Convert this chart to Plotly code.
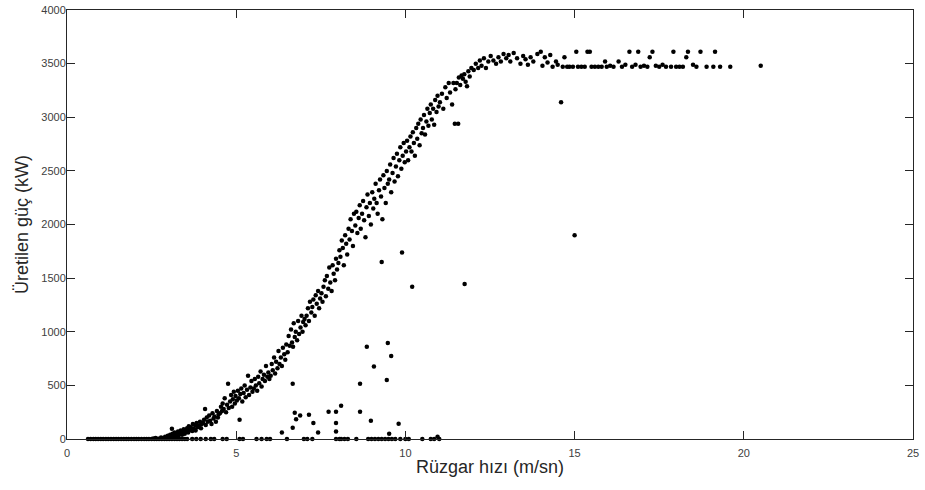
import plotly.graph_objects as go

# --- zero-power observations (turbine idle) ---
zero_x = [0.62,0.7,0.78,0.85,0.92,1.0,1.07,1.15,1.22,1.3,1.38,1.45,1.52,1.6,1.68,1.75,1.82,1.9,1.98,2.05,
          2.12,2.2,2.28,2.35,2.42,2.5,2.58,2.65,2.72,2.8,2.88,2.95,3.02,3.1,3.18,3.25,3.32,3.4,3.48,3.55,
          3.7,3.82,3.95,4.1,4.25,4.35,4.6,4.72,5.1,5.2,5.6,5.75,5.9,6.0,6.5,7.0,7.1,7.25,7.95,8.05,8.1,8.2,
          8.3,8.55,8.9,9.0,9.1,9.2,9.3,9.4,9.5,9.6,9.7,9.85,10.0,10.1,10.5,10.75,10.85,11.0]
zero_y = [0]*len(zero_x)

# --- main power-curve observations ---
curve_x = [2.55,2.62,2.7,2.78,2.85,2.9,2.95,2.98,
  3.02,3.05,3.08,3.1,3.12,3.15,3.18,3.2,3.25,3.28,3.3,3.33,3.36,3.4,3.42,3.45,3.48,
  3.52,3.55,3.58,3.6,3.63,3.66,3.7,3.72,3.75,3.78,3.8,3.83,3.86,3.9,3.93,3.96,3.98,
  4.02,4.05,4.08,4.1,4.13,4.16,4.2,4.23,4.27,4.3,4.33,4.36,4.4,4.43,4.46,4.48,
  4.52,4.55,4.58,4.6,4.63,4.66,4.7,4.73,4.76,4.78,4.82,4.85,4.88,4.9,4.93,4.96,4.98,
  5.02,5.05,5.08,5.12,5.15,5.18,5.22,5.25,5.28,5.32,5.35,5.38,5.42,5.45,5.48,
  5.52,5.55,5.58,5.62,5.65,5.68,5.72,5.75,5.78,5.82,5.85,5.88,5.92,5.95,5.98,
  6.02,6.05,6.08,6.12,6.15,6.18,6.22,6.25,6.28,6.32,6.35,6.38,6.42,6.45,6.48,
  6.52,6.55,6.58,6.62,6.65,6.68,6.7,6.73,6.76,6.8,6.83,6.86,6.9,6.93,6.96,6.98,
  7.02,7.05,7.08,7.12,7.15,7.18,7.22,7.25,7.28,7.32,7.35,7.38,7.42,7.45,7.48,
  7.52,7.55,7.58,7.62,7.65,7.68,7.72,7.75,7.78,7.82,7.85,7.88,7.92,7.95,7.98,
  8.02,8.05,8.08,8.12,8.15,8.18,8.22,8.25,8.28,8.32,8.35,8.38,8.42,8.45,8.48,
  8.52,8.55,8.58,8.62,8.65,8.68,8.72,8.75,8.78,8.82,8.85,8.88,8.92,8.95,8.98,
  9.02,9.05,9.08,9.12,9.15,9.18,9.22,9.25,9.28,9.32,9.35,9.38,9.42,9.45,9.48,
  9.52,9.55,9.58,9.62,9.65,9.68,9.72,9.75,9.78,9.82,9.85,9.88,9.92,9.95,9.98,
  10.02,10.05,10.08,10.12,10.15,10.18,10.22,10.25,10.28,10.32,10.35,10.38,10.42,10.45,10.48,
  10.52,10.55,10.58,10.62,10.65,10.68,10.72,10.75,10.78,10.82,10.85,10.88,10.92,10.95,10.98,
  11.02,11.08,11.12,11.18,11.22,11.28,11.32,11.38,11.42,11.46,11.48,
  11.52,11.56,11.58,11.62,11.66,11.7,11.74,11.78,11.82,11.86,11.9,11.95,
  12.02,12.08,12.15,12.2,12.25,12.32,12.38,12.45,12.52,12.6,12.68,12.75,12.82,12.9,12.98]
curve_y = [5,10,3,15,8,20,12,30,
  25,40,15,95,50,30,60,20,45,70,35,55,80,40,65,90,50,
  70,100,60,120,85,110,75,140,95,130,80,150,110,125,160,100,140,
  150,180,280,130,200,160,220,170,140,240,190,210,160,260,200,230,
  240,300,260,330,280,380,250,320,515,290,350,410,300,370,440,330,400,
  360,450,380,420,470,350,430,500,390,460,590,410,480,540,440,
  470,560,500,450,580,520,630,490,560,600,540,680,580,620,560,
  590,700,640,760,610,720,660,820,700,760,680,850,790,740,880,
  810,960,870,1020,900,860,1080,950,1000,920,1100,980,1040,1150,1000,1090,
  1120,1060,1150,1220,1100,1280,1180,1230,1300,1150,1340,1260,1380,1220,1310,
  1360,1280,1420,1480,1330,1520,1400,1600,1460,1380,1620,1540,1480,1680,1580,
  1640,1760,1700,1850,1780,1620,1900,1820,1720,1960,1860,2050,1940,1800,2100,
  1990,2120,1920,2060,2180,1960,2100,2220,2040,1880,2160,2280,2080,2200,2000,
  2300,2150,2240,2380,2200,2100,2320,2420,2260,2050,2460,2340,2200,2500,2380,
  2420,2560,2300,2480,2620,2400,2540,2660,2450,2600,2720,2520,2640,2760,2580,
  2680,2780,2600,2720,2820,2680,2860,2760,2640,2900,2800,2940,2740,2980,2850,
  2900,3020,2840,2960,3080,2920,3040,3120,2980,3080,2930,3160,3050,3200,3100,
  3140,3220,3080,3280,3180,3320,3230,3120,3320,2940,3260,
  3320,2940,3370,3300,3390,3360,3400,3330,3290,3430,3380,3460,
  3440,3500,3460,3530,3480,3550,3460,3520,3570,3530,3500,3560,3520,3590,3550]

# --- rated-power plateau ---
plateau_x = [13.05,13.1,13.2,13.3,13.4,13.48,13.55,13.62,13.7,13.78,13.9,14.0,14.05,14.12,14.2,14.28,14.35,
  14.45,14.5,14.6,14.65,14.7,14.78,14.85,14.95,15.0,15.05,15.1,15.2,15.3,15.38,15.45,15.5,15.6,15.7,15.8,
  15.9,15.95,16.05,16.15,16.3,16.4,16.5,16.62,16.7,16.8,16.88,16.95,17.05,17.15,17.22,17.3,17.4,17.5,17.6,
  17.7,17.85,17.92,18.0,18.1,18.2,18.3,18.35,18.5,18.6,18.72,18.9,19.1,19.15,19.3,19.6,20.5]
plateau_y = [3580,3520,3600,3550,3500,3570,3540,3490,3560,3520,3590,3610,3480,3560,3510,3580,3470,
  3520,3490,3140,3470,3560,3470,3470,3470,1900,3610,3470,3470,3470,3610,3610,3470,3470,3470,3470,
  3520,3470,3480,3470,3520,3470,3490,3610,3470,3490,3610,3470,3480,3470,3560,3610,3480,3470,3490,
  3470,3470,3610,3470,3470,3470,3560,3610,3490,3470,3610,3470,3470,3610,3470,3470,3480]

# --- curtailed / anomalous observations ---
outlier_x = [8.66,8.86,9.07,9.45,9.48,9.58,9.3,9.9,10.2,11.75,8.66,8.98,9.8,9.52,6.67,6.35,6.67,6.73,
  6.77,6.89,7.15,7.28,7.42,7.73,7.95,8.1,7.95,7.95,5.1,10.95]
outlier_y = [515,860,675,550,895,775,1650,1740,1420,1445,255,170,143,50,515,60,105,245,
  185,220,225,150,60,255,255,310,150,70,180,20]

x_ticks = [0, 5, 10, 15, 20, 25]
y_ticks = [0, 500, 1000, 1500, 2000, 2500, 3000, 3500, 4000]

all_x = zero_x + curve_x + plateau_x + outlier_x
all_y = zero_y + curve_y + plateau_y + outlier_y

FONT = "Liberation Sans, Arial, sans-serif"

fig = go.Figure(go.Scatter(
    x=all_x, y=all_y, mode="markers",
    marker=dict(color="black", size=4.5, line=dict(width=0)),
    cliponaxis=False, showlegend=False))

axis_common = dict(showline=True, mirror="ticks", linecolor="#262626", linewidth=1,
                   ticks="inside", ticklen=8, tickcolor="#262626", tickwidth=1,
                   showgrid=False, zeroline=False, automargin=False,
                   tickfont=dict(family=FONT, size=11, color="#404040"))

fig.update_xaxes(range=[0, 25], tickvals=x_ticks, ticktext=[str(t) for t in x_ticks],
                 ticklabelstandoff=4,
                 title=dict(text="Rüzgar hızı (m/sn)", standoff=2,
                            font=dict(family=FONT, size=18, color="#262626")),
                 **axis_common)
fig.update_yaxes(range=[0, 4000], tickvals=y_ticks, ticktext=[str(t) for t in y_ticks],
                 ticklabelstandoff=-2,
                 title=dict(text="Üretilen güç (kW)", standoff=8,
                            font=dict(family=FONT, size=18, color="#262626")),
                 **axis_common)

fig.update_layout(width=925, height=490, margin=dict(l=67, r=12, t=10, b=51),
                  plot_bgcolor="white", paper_bgcolor="white")

# remove the browser's default 8px body margin so the figure sits at the page origin
fig.write_html("out.html", config={"displayModeBar": False},
               post_script="document.body.style.margin='0';")
